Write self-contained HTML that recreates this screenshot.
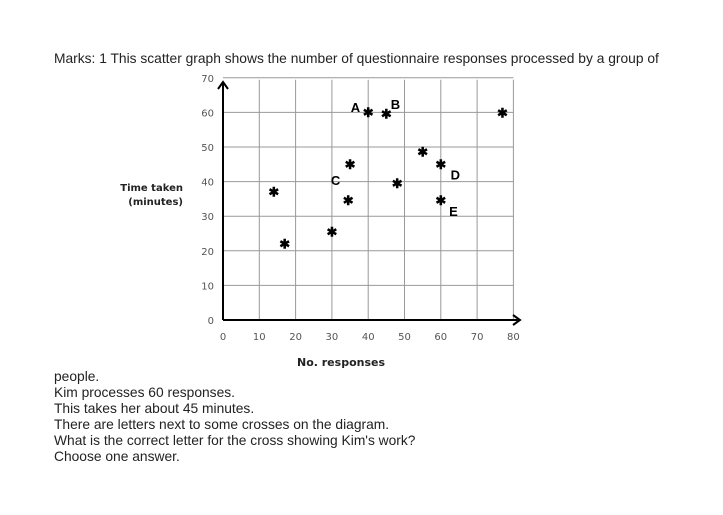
<!DOCTYPE html>
<html><head><meta charset="utf-8"><style>
body{margin:0;width:723px;height:515px;background:#fff;position:relative;overflow:hidden;font-family:"Liberation Sans",Arial,sans-serif;}
.t{position:absolute;left:54px;font-size:13.8px;color:#222;line-height:16px;}
</style></head><body>
<div class="t" style="top:51px">Marks: 1 This scatter graph shows the number of questionnaire responses processed by a group of</div>
<svg id="chart" width="723" height="515" style="position:absolute;left:0;top:0">
<g id="grid"></g><g id="marks"></g>
</svg>
<div class="t" style="top:369px">people.<br>Kim processes 60 responses.<br>This takes her about 45 minutes.<br>There are letters next to some crosses on the diagram.<br>What is the correct letter for the cross showing Kim's work?<br>Choose one answer.</div>
<script>
const xs=[14,17,30,34.5,35,40,45,48,55,60,60,77];
const ys=[37,22,25.5,34.5,45,60,59.6,39.5,48.5,45,34.5,59.8];
const xTicks=[0,10,20,30,40,50,60,70,80];
const yTicks=[0,10,20,30,40,50,60,70];
const letters=["A","B","C","D","E"];
const letterX=[36.5,47.5,31,64,63.5];
const letterY=[61.5,62.5,40.5,42,31.5];
const NS="http://www.w3.org/2000/svg";
const X=v=>223+v*36.3/10, Y=v=>320-v*34.6/10;
const g=document.getElementById('grid'),m=document.getElementById('marks');
function mk(p,tag,a,txt){const e=document.createElementNS(NS,tag);for(const k in a)e.setAttribute(k,a[k]);if(txt!==undefined)e.textContent=txt;p.appendChild(e);return e;}
xTicks.forEach(v=>{if(v>0){const l=mk(g,'line',{x1:X(v),x2:X(v),y1:Y(70)+2,y2:Y(0),stroke:'#999','stroke-width':1});

}
const t=mk(g,'text',{x:X(v),y:340,'font-size':10,fill:'#555','text-anchor':'middle','font-family':'DejaVu Sans, sans-serif'},v);

});
yTicks.forEach(v=>{if(v>0){const l=mk(g,'line',{x1:X(0),x2:X(80),y1:Y(v),y2:Y(v),stroke:'#999','stroke-width':1});

}
const t=mk(g,'text',{x:214,y:Y(v)+4,'font-size':10,fill:'#555','text-anchor':'end','font-family':'DejaVu Sans, sans-serif'},v);

});
const ax=mk(g,'path',{d:`M${X(0)} ${Y(0)}L${X(0)} 82M${X(0)-5} 89L${X(0)} 82L${X(0)+5} 89M${X(0)} ${Y(0)}L520 ${Y(0)}M513 315L520 ${Y(0)}L513 325`,stroke:'#000','stroke-width':2,fill:'none'});


xs.forEach((v,i)=>{const c=mk(m,'text',{x:X(v),y:Y(ys[i])+4.5,'font-size':13,'font-weight':'bold','text-anchor':'middle',fill:'#000'},'✱');

});
letters.forEach((s,i)=>{const t=mk(m,'text',{x:X(letterX[i]),y:Y(letterY[i])+5,'font-size':13,'font-weight':'bold','text-anchor':'middle',fill:'#000'},s);

});
const t1=mk(g,'text',{x:183,y:191,'font-size':10,'font-weight':'bold','text-anchor':'end',fill:'#222','font-family':'DejaVu Sans, sans-serif'},'Time taken');


const t2=mk(g,'text',{x:183,y:205,'font-size':10,'font-weight':'bold','text-anchor':'end',fill:'#222','font-family':'DejaVu Sans, sans-serif'},'(minutes)');


const t3=mk(g,'text',{x:341,y:366,'font-size':11,'font-weight':'bold','text-anchor':'middle',fill:'#222','font-family':'DejaVu Sans, sans-serif'},'No. responses');


</script>
</body></html>
